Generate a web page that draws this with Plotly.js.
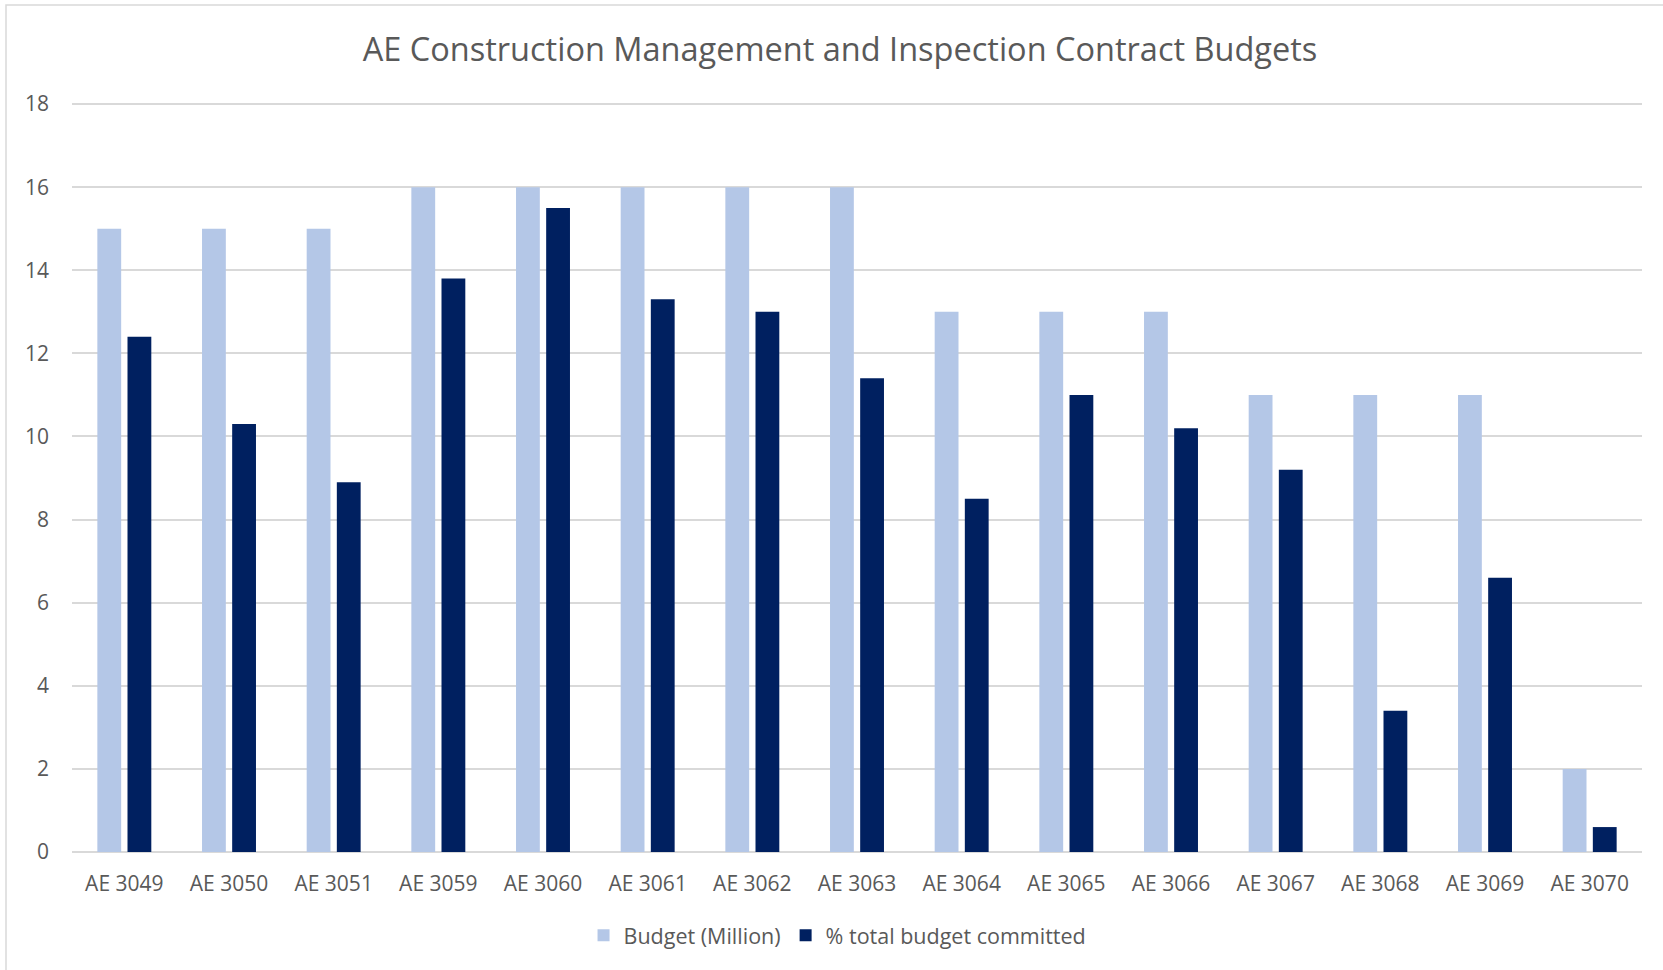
<!DOCTYPE html>
<html>
<head>
<meta charset="utf-8">
<script src="https://cdn.plot.ly/plotly-3.0.1.min.js"></script>
<style>
  html, body { margin: 0; padding: 0; background: #ffffff; }
  #chart { width: 1663px; height: 970px; }
</style>
</head>
<body>
<div id="chart"></div>
<script>
const categories = ["AE 3049", "AE 3050", "AE 3051", "AE 3059", "AE 3060", "AE 3061", "AE 3062", "AE 3063",
                    "AE 3064", "AE 3065", "AE 3066", "AE 3067", "AE 3068", "AE 3069", "AE 3070"];
const budgetMillion = [15, 15, 15, 16, 16, 16, 16, 16, 13, 13, 13, 11, 11, 11, 2];
const pctCommitted = [12.4, 10.3, 8.9, 13.8, 15.5, 13.3, 13.0, 11.4, 8.5, 11.0, 10.2, 9.2, 3.4, 6.6, 0.6];
const yTicks = [0, 2, 4, 6, 8, 10, 12, 14, 16, 18];

const FONT = "Open Sans, Noto Sans, sans-serif";
const TXT = "#595959";

const traces = [
  { type: "bar", name: "Budget (Million)", x: categories, y: budgetMillion,
    marker: { color: "#b4c7e7" }, hoverinfo: "x+y" },
  { type: "bar", name: "% total budget committed", x: categories, y: pctCommitted,
    marker: { color: "#002060" }, hoverinfo: "x+y" }
];

const layout = {
  width: 1663, height: 970,
  paper_bgcolor: "#ffffff", plot_bgcolor: "#ffffff",
  margin: { l: 72, r: 21, t: 102, b: 118, pad: 0 },
  font: { family: FONT, color: TXT, size: 21 },
  title: { text: "AE Construction Management and Inspection Contract Budgets",
           font: { family: FONT, size: 32.5, color: TXT },
           x: 840 / 1663, xanchor: "center", y: 1 - 50 / 970, yanchor: "middle", yref: "container" },
  barmode: "group", bargap: 0.424, bargroupgap: 0.21,
  xaxis: { type: "category", showgrid: false, showline: false, zeroline: false,
           ticks: "", ticklabelstandoff: 17,
           tickfont: { family: FONT, size: 21, color: TXT } },
  yaxis: { range: [0, 18.05], tickvals: yTicks, ticktext: yTicks.map(String),
           showgrid: true, gridcolor: "#d9d9d9", gridwidth: 1.5,
           zeroline: true, zerolinecolor: "#d9d9d9", zerolinewidth: 1.5,
           showline: false, ticks: "", ticklabelstandoff: 22,
           tickfont: { family: FONT, size: 21, color: TXT } },
  showlegend: true,
  legend: { orientation: "h", x: 0.4876, xanchor: "center", y: -0.111, yanchor: "middle",
            font: { family: FONT, size: 21.5, color: TXT }, itemwidth: 30, traceorder: "normal" },
  shapes: [
    { type: "rect", xref: "paper", yref: "paper", layer: "below",
      x0: (6 - 72) / 1570, x1: (1700 - 72) / 1570,
      y0: (852 - 1000) / 750, y1: (852 - 5) / 750,
      line: { color: "#d9d9d9", width: 1.5 }, fillcolor: "rgba(0,0,0,0)" }
  ]
};

Plotly.newPlot("chart", traces, layout, { displayModeBar: false, responsive: false });
</script>
</body>
</html>
